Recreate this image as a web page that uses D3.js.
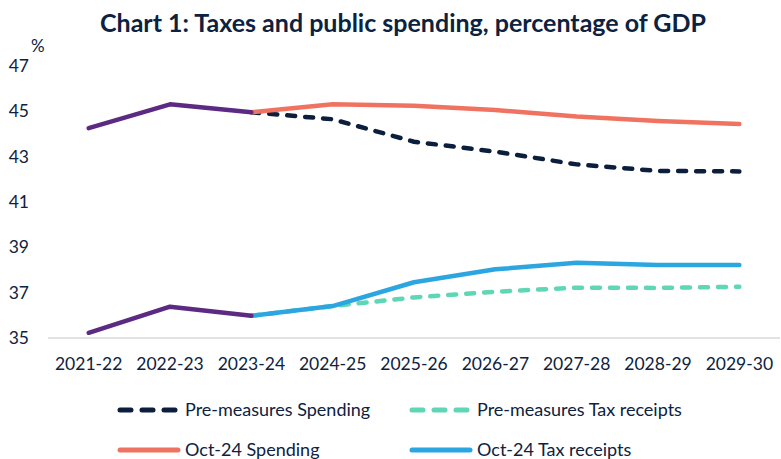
<!DOCTYPE html>
<html>
<head>
<meta charset="utf-8">
<script src="https://cdn.jsdelivr.net/npm/d3@7"></script>
<style>
  body { margin: 0; background: #fff; }
  svg { display: block; font-family: Lato, "Open Sans", sans-serif; }
</style>
</head>
<body>
<svg id="chart" width="781" height="459"></svg>
<script>
// ---- data ----
const years = ['2021-22', '2022-23', '2023-24', '2024-25', '2025-26', '2026-27', '2027-28', '2028-29', '2029-30'];
const outturnSpending = [44.26, 45.31, 44.96, null, null, null, null, null, null];
const outturnTax = [35.23, 36.38, 35.98, null, null, null, null, null, null];
const preSpending = [null, null, 44.96, 44.65, 43.66, 43.22, 42.66, 42.37, 42.35];
const preTax = [null, null, 35.98, 36.41, 36.79, 37.04, 37.22, 37.21, 37.26];
const octSpending = [null, null, 44.96, 45.31, 45.25, 45.06, 44.77, 44.57, 44.44];
const octTax = [null, null, 35.98, 36.41, 37.46, 38.03, 38.32, 38.22, 38.22];
const yTicks = [35, 37, 39, 41, 43, 45, 47];

const navy = '#0d2240';
const series = [
    { name: 'Pre-measures Spending', values: preSpending, color: '#0b1f3d', dash: true, legend: true },
    { name: 'Pre-measures Tax receipts', values: preTax, color: '#5fd6b6', dash: true, legend: true },
    { name: 'Oct-24 Spending', values: octSpending, color: '#f07361', dash: false, legend: true },
    { name: 'Oct-24 Tax receipts', values: octTax, color: '#2ba6e0', dash: false, legend: true },
    { name: 'Outturn Spending', values: outturnSpending, color: '#5c2a82', dash: false, legend: false },
    { name: 'Outturn Tax', values: outturnTax, color: '#5c2a82', dash: false, legend: false }
];

const svg = d3.select('#chart');
const plotLeft = 48, plotRight = 780, plotTop = 66, plotBottom = 338;

const x = d3.scaleBand().domain(years).range([plotLeft, plotRight]);
const y = d3.scaleLinear().domain([35, 47]).range([plotBottom, plotTop]);

// title
svg.append('text')
    .attr('x', 403).attr('y', 32)
    .attr('text-anchor', 'middle')
    .attr('font-size', 25).attr('font-weight', 700)
    .attr('fill', navy)
    .text('Chart 1: Taxes and public spending, percentage of GDP');

svg.append('text')
    .attr('x', 31).attr('y', 52)
    .attr('font-size', 17).attr('fill', navy)
    .text('%');

// y axis labels
const yAxis = d3.axisLeft(y).tickValues(yTicks).tickSize(0).tickPadding(0);
svg.append('g')
    .attr('transform', `translate(29,0)`)
    .call(yAxis)
    .call(g => g.select('.domain').remove())
    .call(g => g.selectAll('text')
        .attr('font-family', 'Lato, sans-serif')
        .attr('font-size', 17.5).attr('fill', navy));

// baseline
svg.append('line')
    .attr('x1', plotLeft).attr('x2', plotRight)
    .attr('y1', y(35)).attr('y2', y(35))
    .attr('stroke', '#d9d9d9').attr('stroke-width', 1.5);

// x axis labels
const xAxis = d3.axisBottom(x).tickSize(0).tickPadding(0);
svg.append('g')
    .attr('transform', `translate(0,${plotBottom + 20})`)
    .call(xAxis)
    .call(g => g.select('.domain').remove())
    .call(g => g.selectAll('text')
        .attr('font-family', 'Lato, sans-serif')
        .attr('font-size', 17.5).attr('fill', navy));

// lines
const line = d3.line()
    .defined(d => d.v !== null)
    .x(d => x(d.year) + x.bandwidth() / 2)
    .y(d => y(d.v));

series.forEach(s => {
    const pts = years.map((yr, i) => ({ year: yr, v: s.values[i] }));
    svg.append('path')
        .datum(pts)
        .attr('d', line)
        .attr('fill', 'none')
        .attr('stroke', s.color)
        .attr('stroke-width', 4.5)
        .attr('stroke-linecap', 'round')
        .attr('stroke-linejoin', 'round')
        .attr('stroke-dasharray', s.dash ? '8,10' : null);
});

// legend
const legendPos = [[120, 410], [412, 410], [120, 450], [412, 450]];
series.filter(s => s.legend).forEach((s, i) => {
    const [lx, ly] = legendPos[i];
    const g = svg.append('g').attr('transform', `translate(${lx},${ly})`);
    g.append('line')
        .attr('x1', 0).attr('x2', s.dash ? 55 : 58)
        .attr('y1', 0).attr('y2', 0)
        .attr('stroke', s.color).attr('stroke-width', 5)
        .attr('stroke-linecap', 'round')
        .attr('stroke-dasharray', s.dash ? '11,11' : null);
    g.append('text')
        .attr('x', 65).attr('y', 6)
        .attr('font-size', 18).attr('fill', navy)
        .text(s.name);
});
</script>
</body>
</html>
